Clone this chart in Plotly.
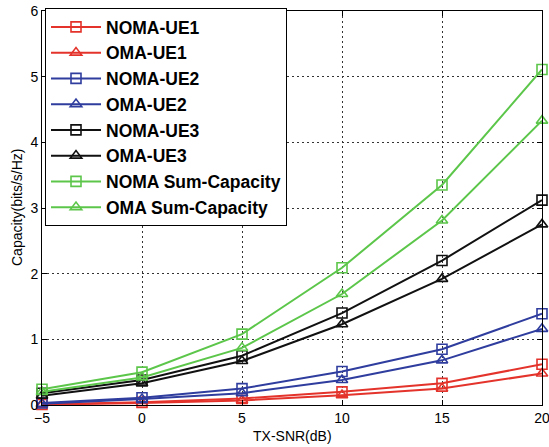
import plotly.graph_objects as go

snr = [-5, 0, 5, 10, 15, 20]

noma_ue1 = [0.01, 0.04, 0.10, 0.20, 0.33, 0.62]
oma_ue1 = [0.005, 0.03, 0.07, 0.15, 0.25, 0.48]
noma_ue2 = [0.03, 0.11, 0.25, 0.51, 0.85, 1.39]
oma_ue2 = [0.02, 0.09, 0.18, 0.38, 0.68, 1.16]
noma_ue3 = [0.18, 0.38, 0.75, 1.40, 2.20, 3.12]
oma_ue3 = [0.14, 0.33, 0.67, 1.23, 1.92, 2.75]
noma_sum = [0.24, 0.50, 1.08, 2.09, 3.35, 5.11]
oma_sum = [0.20, 0.42, 0.87, 1.69, 2.81, 4.33]

names = ["NOMA-UE1", "OMA-UE1", "NOMA-UE2", "OMA-UE2",
         "NOMA-UE3", "OMA-UE3", "NOMA Sum-Capacity", "OMA Sum-Capacity"]
series = [noma_ue1, oma_ue1, noma_ue2, oma_ue2, noma_ue3, oma_ue3, noma_sum, oma_sum]
x_title = "TX-SNR(dB)"
y_title = "Capacity(bits/s/Hz)"

RED = "#e3332b"
BLUE = "#2f3d9e"
BLACK = "#111111"
GREEN = "#5cc64a"
colors = [RED, RED, BLUE, BLUE, BLACK, BLACK, GREEN, GREEN]
symbols = ["square-open", "triangle-up-open"] * 4

FONT = "Liberation Sans, Arial"

fig = go.Figure()
for name, ys, c, s in zip(names, series, colors, symbols):
    fig.add_trace(go.Scatter(
        x=snr, y=ys, name=name, mode="lines+markers",
        line=dict(color=c, width=2),
        marker=dict(symbol=s, size=10, color=c, line=dict(color=c, width=1.6)),
        cliponaxis=False,
    ))

axis_common = dict(
    showline=True, linecolor="black", linewidth=1, mirror="ticks",
    ticks="inside", ticklen=5, tickcolor="black",
    showgrid=True, gridcolor="#333333", gridwidth=1, griddash="2px,3px",
    zeroline=False, automargin=False, ticklabeloverflow="allow",
    tickfont=dict(family=FONT, size=14, color="black"),
)

fig.update_xaxes(range=[-5, 20], tickvals=[-5, 0, 5, 10, 15, 20], **axis_common)
fig.update_yaxes(range=[0, 6], tickvals=[0, 1, 2, 3, 4, 5, 6], **axis_common)

fig.add_annotation(text=x_title, xref="paper", yref="paper", x=0.5, y=-31 / 394,
                   xanchor="center", yanchor="middle", showarrow=False,
                   font=dict(family=FONT, size=14, color="black"))
fig.add_annotation(text=y_title, xref="paper", yref="paper", x=-25 / 500, y=0.5,
                   xanchor="center", yanchor="middle", showarrow=False, textangle=-90,
                   font=dict(family=FONT, size=14, color="black"))

fig.update_layout(
    width=549, height=447,
    margin=dict(l=42, r=7, t=11, b=42),
    paper_bgcolor="white", plot_bgcolor="white",
    font=dict(family=FONT, color="black"),
    legend=dict(
        x=0.006, y=1.0076, xanchor="left", yanchor="top",
        bgcolor="white", bordercolor="black", borderwidth=1,
        font=dict(family=FONT, size=17.5, color="black", weight="bold"),
        itemwidth=50,
    ),
    showlegend=True,
)

fig.write_html("out.html", config={"displayModeBar": False},
               post_script="document.body.style.margin='0px';document.body.style.overflow='hidden';")
